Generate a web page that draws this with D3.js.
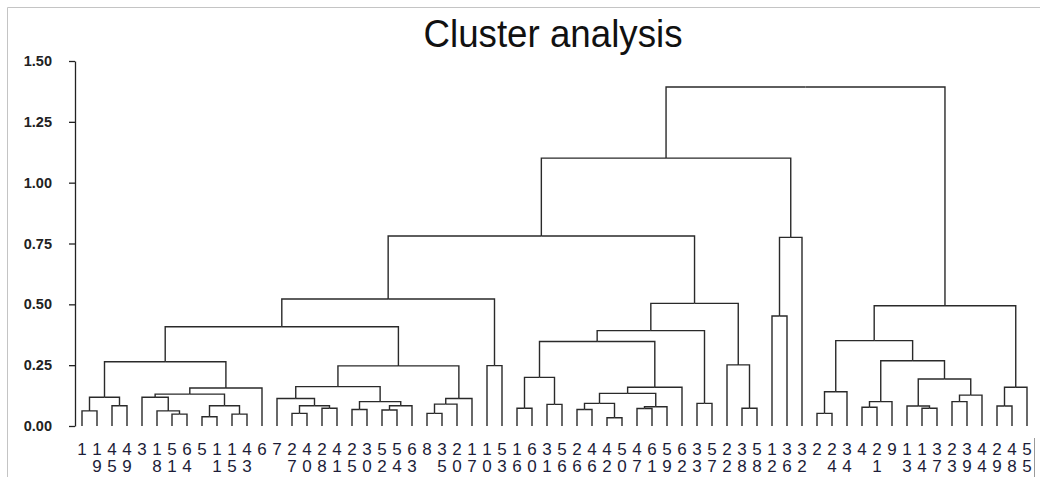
<!DOCTYPE html>
<html>
<head>
<meta charset="utf-8">
<script src="https://cdn.jsdelivr.net/npm/d3@7"></script>
<style>
  body { margin: 0; background: #fff; }
</style>
</head>
<body>
<div class="graph"></div>
<script>
const width = 1040;
const height = 477;

// leaf labels, left to right as drawn
const leafOrder = [1, 19, 45, 49, 3, 18, 51, 64, 5, 11, 15, 43, 6, 7, 27, 40, 28, 41, 25, 30,
  52, 54, 63, 8, 35, 20, 17, 10, 53, 16, 60, 31, 56, 26, 46, 42, 50, 47, 61, 59, 62, 33, 57,
  22, 38, 58, 12, 36, 32, 2, 24, 34, 4, 21, 9, 13, 14, 37, 23, 39, 44, 29, 48, 55];

// merge steps: negative = leaf label, positive = earlier row (1-based), then join height
const merges = [
  [-1, -19, 0.062], [-45, -49, 0.083], [1, 2, 0.118], [-51, -64, 0.049], [-18, 4, 0.062],
  [-3, 5, 0.118], [-5, -11, 0.038], [-15, -43, 0.049], [7, 8, 0.083], [6, 9, 0.131],
  [10, -6, 0.156], [3, 11, 0.264], [-27, -40, 0.052], [-28, -41, 0.073], [13, 14, 0.083],
  [-7, 15, 0.113], [-25, -30, 0.068], [-52, -54, 0.066], [18, -63, 0.083], [17, 19, 0.100],
  [16, 20, 0.162], [-8, -35, 0.052], [22, -20, 0.090], [23, -17, 0.113], [21, 24, 0.247],
  [12, 25, 0.408], [-10, -53, 0.248], [26, 27, 0.522], [-16, -60, 0.073], [-31, -56, 0.089],
  [29, 30, 0.200], [-26, -46, 0.068], [-42, -50, 0.034], [32, 33, 0.093], [-47, -61, 0.072],
  [35, -59, 0.079], [34, 36, 0.134], [37, -62, 0.159], [31, 38, 0.347], [-33, -57, 0.093],
  [39, 40, 0.392], [-38, -58, 0.073], [-22, 42, 0.251], [41, 43, 0.504], [28, 44, 0.781],
  [-12, -36, 0.452], [46, -32, 0.775], [45, 47, 1.101], [-2, -24, 0.052], [49, -34, 0.141],
  [-4, -21, 0.077], [51, -9, 0.100], [-14, -37, 0.073], [-13, 53, 0.082], [-23, -39, 0.100],
  [55, -44, 0.127], [54, 56, 0.193], [52, 57, 0.268], [50, 58, 0.351], [-29, -48, 0.082],
  [60, -55, 0.159], [59, 61, 0.494], [48, 62, 1.393]
];

const yTicks = [0, 0.25, 0.5, 0.75, 1.0, 1.25, 1.5];

const svg = d3.select(".graph")
  .append("svg")
  .attr("width", width)
  .attr("height", height);

// window frame
svg.append("path")
  .attr("d", `M7.5,${height}V7.5H${width}`)
  .attr("fill", "none")
  .attr("stroke", "#c4c4c4");
svg.append("line")
  .attr("x1", 1034.5).attr("x2", 1034.5)
  .attr("y1", 438).attr("y2", height)
  .attr("stroke", "#9a9a9a");

svg.append("text")
  .attr("x", 553)
  .attr("y", 47)
  .attr("text-anchor", "middle")
  .attr("font-family", "Liberation Sans, Arial, sans-serif")
  .attr("font-size", 38)
  .attr("textLength", 259)
  .attr("lengthAdjust", "spacingAndGlyphs")
  .attr("fill", "#111")
  .text("Cluster analysis");

function build(ref) {
  if (ref < 0) return { name: -ref, dist: 0 };
  const [a, b, h] = merges[ref - 1];
  return { dist: h, children: [build(a), build(b)] };
}
const root = d3.hierarchy(build(merges.length));

const x = d3.scalePoint()
  .domain(leafOrder)
  .range([82, 1027]);

const y = d3.scaleLinear()
  .domain([0, 1.5])
  .range([426, 61]);

root.eachAfter(n => {
  n.px = n.children ? (n.children[0].px + n.children[1].px) / 2 : x(n.data.name);
});

const yAxis = d3.axisLeft(y)
  .tickValues(yTicks)
  .tickFormat(d3.format(".2f"))
  .tickSize(6)
  .tickSizeOuter(0)
  .tickPadding(17);

const ax = svg.append("g")
  .attr("transform", "translate(75, 0)")
  .call(yAxis);
ax.selectAll("path, line").attr("stroke", "#222").attr("stroke-width", 1.3);
ax.selectAll("text")
  .attr("font-family", "Liberation Sans, Arial, sans-serif")
  .attr("font-size", 14.5)
  .attr("font-weight", "bold")
  .attr("fill", "#222");

svg.append("g")
  .selectAll("path")
  .data(root.links())
  .enter().append("path")
  .attr("d", d => `M${d.target.px},${y(d.target.data.dist)}V${y(d.source.data.dist)}H${d.source.px}`)
  .attr("fill", "none")
  .attr("stroke", "#2a2a2a")
  .attr("stroke-width", 1.4);

const labels = svg.append("g")
  .attr("font-family", "Liberation Sans, Arial, sans-serif")
  .attr("font-size", 17)
  .attr("fill", "#1c1c38")
  .attr("text-anchor", "middle");

labels.selectAll("text.top")
  .data(leafOrder)
  .enter().append("text")
  .attr("class", "top")
  .attr("x", d => x(d))
  .attr("y", 455)
  .text(d => String(d)[0]);

labels.selectAll("text.bot")
  .data(leafOrder.filter(d => d >= 10))
  .enter().append("text")
  .attr("class", "bot")
  .attr("x", d => x(d))
  .attr("y", 472)
  .text(d => String(d)[1]);
</script>
</body>
</html>
